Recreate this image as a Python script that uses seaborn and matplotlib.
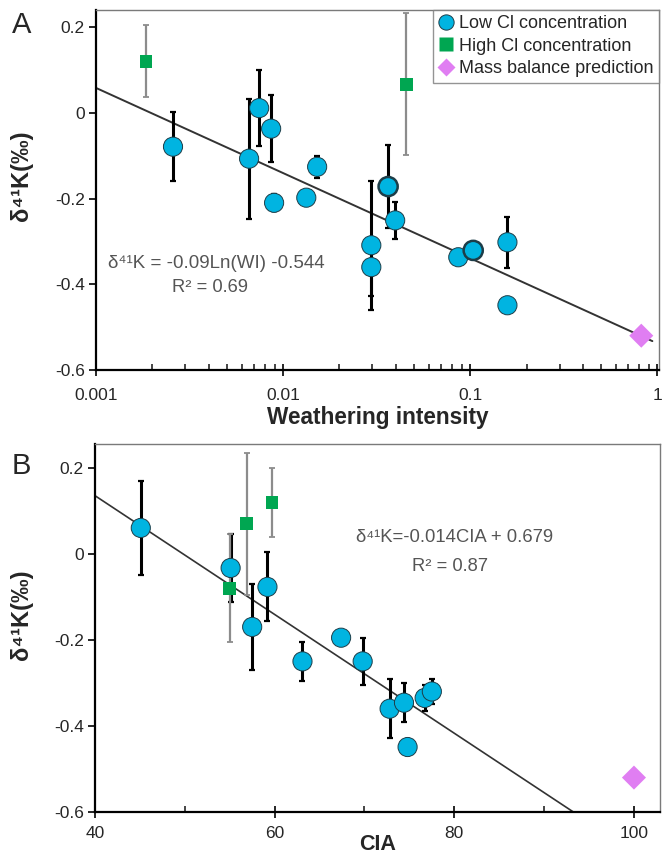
import numpy as np
import pandas as pd
import matplotlib
matplotlib.use("Agg")
import matplotlib.pyplot as plt
import seaborn as sns
from matplotlib.lines import Line2D
from matplotlib.ticker import FixedLocator, FixedFormatter, NullFormatter, LogLocator

sns.set_style("ticks")
plt.rcParams['font.family'] = ['Liberation Sans', 'DejaVu Sans']
plt.rcParams['axes.unicode_minus'] = False

# ---------------- Panel A data ----------------
a_low_wi = [0.00258, 0.00658, 0.00745, 0.00863, 0.00895, 0.0133, 0.0152, 0.0296, 0.0296,
            0.0364, 0.0397, 0.0863, 0.1037, 0.158, 0.158]
a_low_d = [-0.079, -0.107, 0.011, -0.037, -0.21, -0.198, -0.126, -0.309, -0.36,
           -0.172, -0.251, -0.337, -0.321, -0.302, -0.449]
a_low_err = [0.08, 0.14, 0.088, 0.078, 0.02, 0.0, 0.025, 0.15, 0.068,
             0.097, 0.043, 0.015, 0.02, 0.06, 0.0]
a_low_outlined = [False, False, False, False, False, False, False, False, False,
                  True, False, False, True, False, False]
a_high_wi = [0.00185, 0.0455]
a_high_d = [0.12, 0.067]
a_high_err = [0.084, 0.165]
a_mb_wi = [0.82]
a_mb_d = [-0.52]
a_fit = (-0.0863, -0.538)   # slope on ln(WI), intercept
a_fit_range = [0.001, 0.94]

# ---------------- Panel B data ----------------
b_low_cia = [45.1, 55.1, 57.5, 59.2, 63.1, 67.4, 69.8, 72.8, 74.4, 74.8, 76.7, 77.5]
b_low_d = [0.06, -0.033, -0.17, -0.077, -0.25, -0.195, -0.25, -0.36, -0.346, -0.449, -0.335, -0.32]
b_low_err = [0.11, 0.08, 0.1, 0.08, 0.045, 0.01, 0.055, 0.068, 0.045, 0.0, 0.03, 0.03]
b_high_cia = [55.0, 56.9, 59.7]
b_high_d = [-0.08, 0.07, 0.12]
b_high_err = [0.125, 0.165, 0.08]
b_mb_cia = [100]
b_mb_d = [-0.52]
b_fit = (-0.0138, 0.687)
b_fit_range = [40, 100]

y_ticks = [-0.6, -0.4, -0.2, 0, 0.2]
y_ticklabels = ["-0.6", "-0.4", "-0.2", "0", "0.2"]
a_xticks = [0.001, 0.01, 0.1, 1]
a_xticklabels = ["0.001", "0.01", "0.1", "1"]
b_xticks = [40, 60, 80, 100]
b_xticklabels = ["40", "60", "80", "100"]

labels = ["Low Cl concentration", "High Cl concentration", "Mass balance prediction"]

BLUE = "#00B4E1"
GREEN = "#00A651"
PINK = "#E07EF2"
TEXTGREY = "#555555"
LABEL_FS = 16.3

fig = plt.figure(figsize=(6.66, 8.59), dpi=100)
axA = fig.add_axes([0.1441, 0.5693, 0.8454, 0.4191])
axB = fig.add_axes([0.1426, 0.0547, 0.8484, 0.4284])


def draw(ax, lx, ly, lerr, hx, hy, herr, mx, my, outlined=None):
    lerr_arr = np.array(lerr)
    mask = lerr_arr > 0
    ax.errorbar(np.array(lx)[mask], np.array(ly)[mask], yerr=lerr_arr[mask], fmt='none',
                ecolor='black', elinewidth=2.2, capsize=2.2, capthick=1.6, zorder=2)
    ax.errorbar(hx, hy, yerr=herr, fmt='none', ecolor='#8c8c8c', elinewidth=1.6,
                capsize=2.5, capthick=1.3, zorder=2)
    dl = pd.DataFrame({"x": lx, "y": ly})
    dh = pd.DataFrame({"x": hx, "y": hy})
    dm = pd.DataFrame({"x": mx, "y": my})
    lw = [1.8 if o else 0.7 for o in (outlined if outlined is not None else [False] * len(lx))]
    sns.scatterplot(data=dl, x="x", y="y", ax=ax, color=BLUE, marker='o', s=190,
                    edgecolor='#1d3d48', linewidth=lw, zorder=4, legend=False)
    sns.scatterplot(data=dh, x="x", y="y", ax=ax, color=GREEN, marker='s', s=85,
                    edgecolor='none', linewidth=0, zorder=4, legend=False)
    sns.scatterplot(data=dm, x="x", y="y", ax=ax, color=PINK, marker='D', s=150,
                    edgecolor='none', linewidth=0, zorder=4, legend=False)


def style(ax):
    for s in ['left', 'bottom']:
        ax.spines[s].set_linewidth(1.6)
        ax.spines[s].set_color('black')
    for s in ['top', 'right']:
        ax.spines[s].set_linewidth(1.0)
        ax.spines[s].set_color('#7a7a7a')
        ax.spines[s].set_visible(True)
    ax.set_yticks(y_ticks)
    ax.set_yticklabels(y_ticklabels)
    ax.tick_params(axis='y', direction='out', length=5, width=1.4, labelsize=12.5, pad=3)
    ax.tick_params(axis='x', which='major', direction='inout', length=8, width=1.4,
                   labelsize=12.5, pad=6)
    ax.tick_params(axis='x', which='minor', direction='in', length=4, width=1.2)


# ---------- Panel A ----------
draw(axA, a_low_wi, a_low_d, a_low_err, a_high_wi, a_high_d, a_high_err,
     a_mb_wi, a_mb_d, a_low_outlined)
xl = np.geomspace(a_fit_range[0], a_fit_range[1], 100)
axA.plot(xl, a_fit[0] * np.log(xl) + a_fit[1], color='#333333', lw=1.4, zorder=1)
axA.set_xscale('log')
axA.set_xlim(0.001, 1.02)
axA.set_ylim(-0.6, 0.24)
axA.xaxis.set_major_locator(FixedLocator(a_xticks))
axA.xaxis.set_major_formatter(FixedFormatter(a_xticklabels))
axA.xaxis.set_minor_locator(LogLocator(base=10, subs=np.arange(2, 10)))
axA.xaxis.set_minor_formatter(NullFormatter())
style(axA)
axA.tick_params(axis='x', which='major', pad=9)
axA.set_xlabel("Weathering intensity", fontsize=LABEL_FS, fontweight='bold', labelpad=2)
axA.set_ylabel("δ⁴¹K(‰)", fontsize=LABEL_FS + 0.7, fontweight='bold')
axA.yaxis.set_label_coords(-0.112, 0.539)
axA.text(0.213, 0.297, "δ⁴¹K = -0.09Ln(WI) -0.544", transform=axA.transAxes,
         ha='center', va='center', fontsize=13.5, color=TEXTGREY)
axA.text(0.2025, 0.228, "R² = 0.69", transform=axA.transAxes,
         ha='center', va='center', fontsize=13.2, color=TEXTGREY)

handles = [
    Line2D([], [], marker='o', ls='none', markerfacecolor=BLUE, markeredgecolor='#1d3d48',
           markeredgewidth=0.7, markersize=11),
    Line2D([], [], marker='s', ls='none', markerfacecolor=GREEN, markeredgecolor='none',
           markersize=10),
    Line2D([], [], marker='D', ls='none', markerfacecolor=PINK, markeredgecolor='none',
           markersize=9),
]
leg = axA.legend(handles, labels, loc='upper right', borderaxespad=0, fontsize=13,
                 frameon=True, fancybox=False, handlelength=0.8, handletextpad=0.35,
                 borderpad=0.3, labelspacing=0.3)
leg.get_frame().set_edgecolor('#7a7a7a')
leg.get_frame().set_linewidth(1.0)

# ---------- Panel B ----------
draw(axB, b_low_cia, b_low_d, b_low_err, b_high_cia, b_high_d, b_high_err,
     b_mb_cia, b_mb_d)
xb = np.linspace(b_fit_range[0], b_fit_range[1], 50)
axB.plot(xb, b_fit[0] * xb + b_fit[1], color='#333333', lw=1.2, zorder=1)
axB.set_xlim(40, 102.9)
axB.set_ylim(-0.6, 0.255)
axB.xaxis.set_major_locator(FixedLocator(b_xticks))
axB.xaxis.set_major_formatter(FixedFormatter(b_xticklabels))
axB.xaxis.set_minor_locator(FixedLocator([50, 70, 90]))
style(axB)
axB.set_xlabel("CIA", fontsize=15.5, fontweight='bold', labelpad=-5)
axB.set_ylabel("δ⁴¹K(‰)", fontsize=LABEL_FS + 0.7, fontweight='bold')
axB.yaxis.set_label_coords(-0.110, 0.535)
axB.text(0.637, 0.747, "δ⁴¹K=-0.014CIA + 0.679", transform=axB.transAxes,
         ha='center', va='center', fontsize=13.3, color=TEXTGREY)
axB.text(0.628, 0.668, "R² = 0.87", transform=axB.transAxes,
         ha='center', va='center', fontsize=13.2, color=TEXTGREY)

fig.text(22 / 666, 1 - 25 / 859, "A", fontsize=21, ha='center', va='center')
fig.text(21 / 666, 1 - 466 / 859, "B", fontsize=21, ha='center', va='center')

fig.savefig("out.png", dpi=100)
